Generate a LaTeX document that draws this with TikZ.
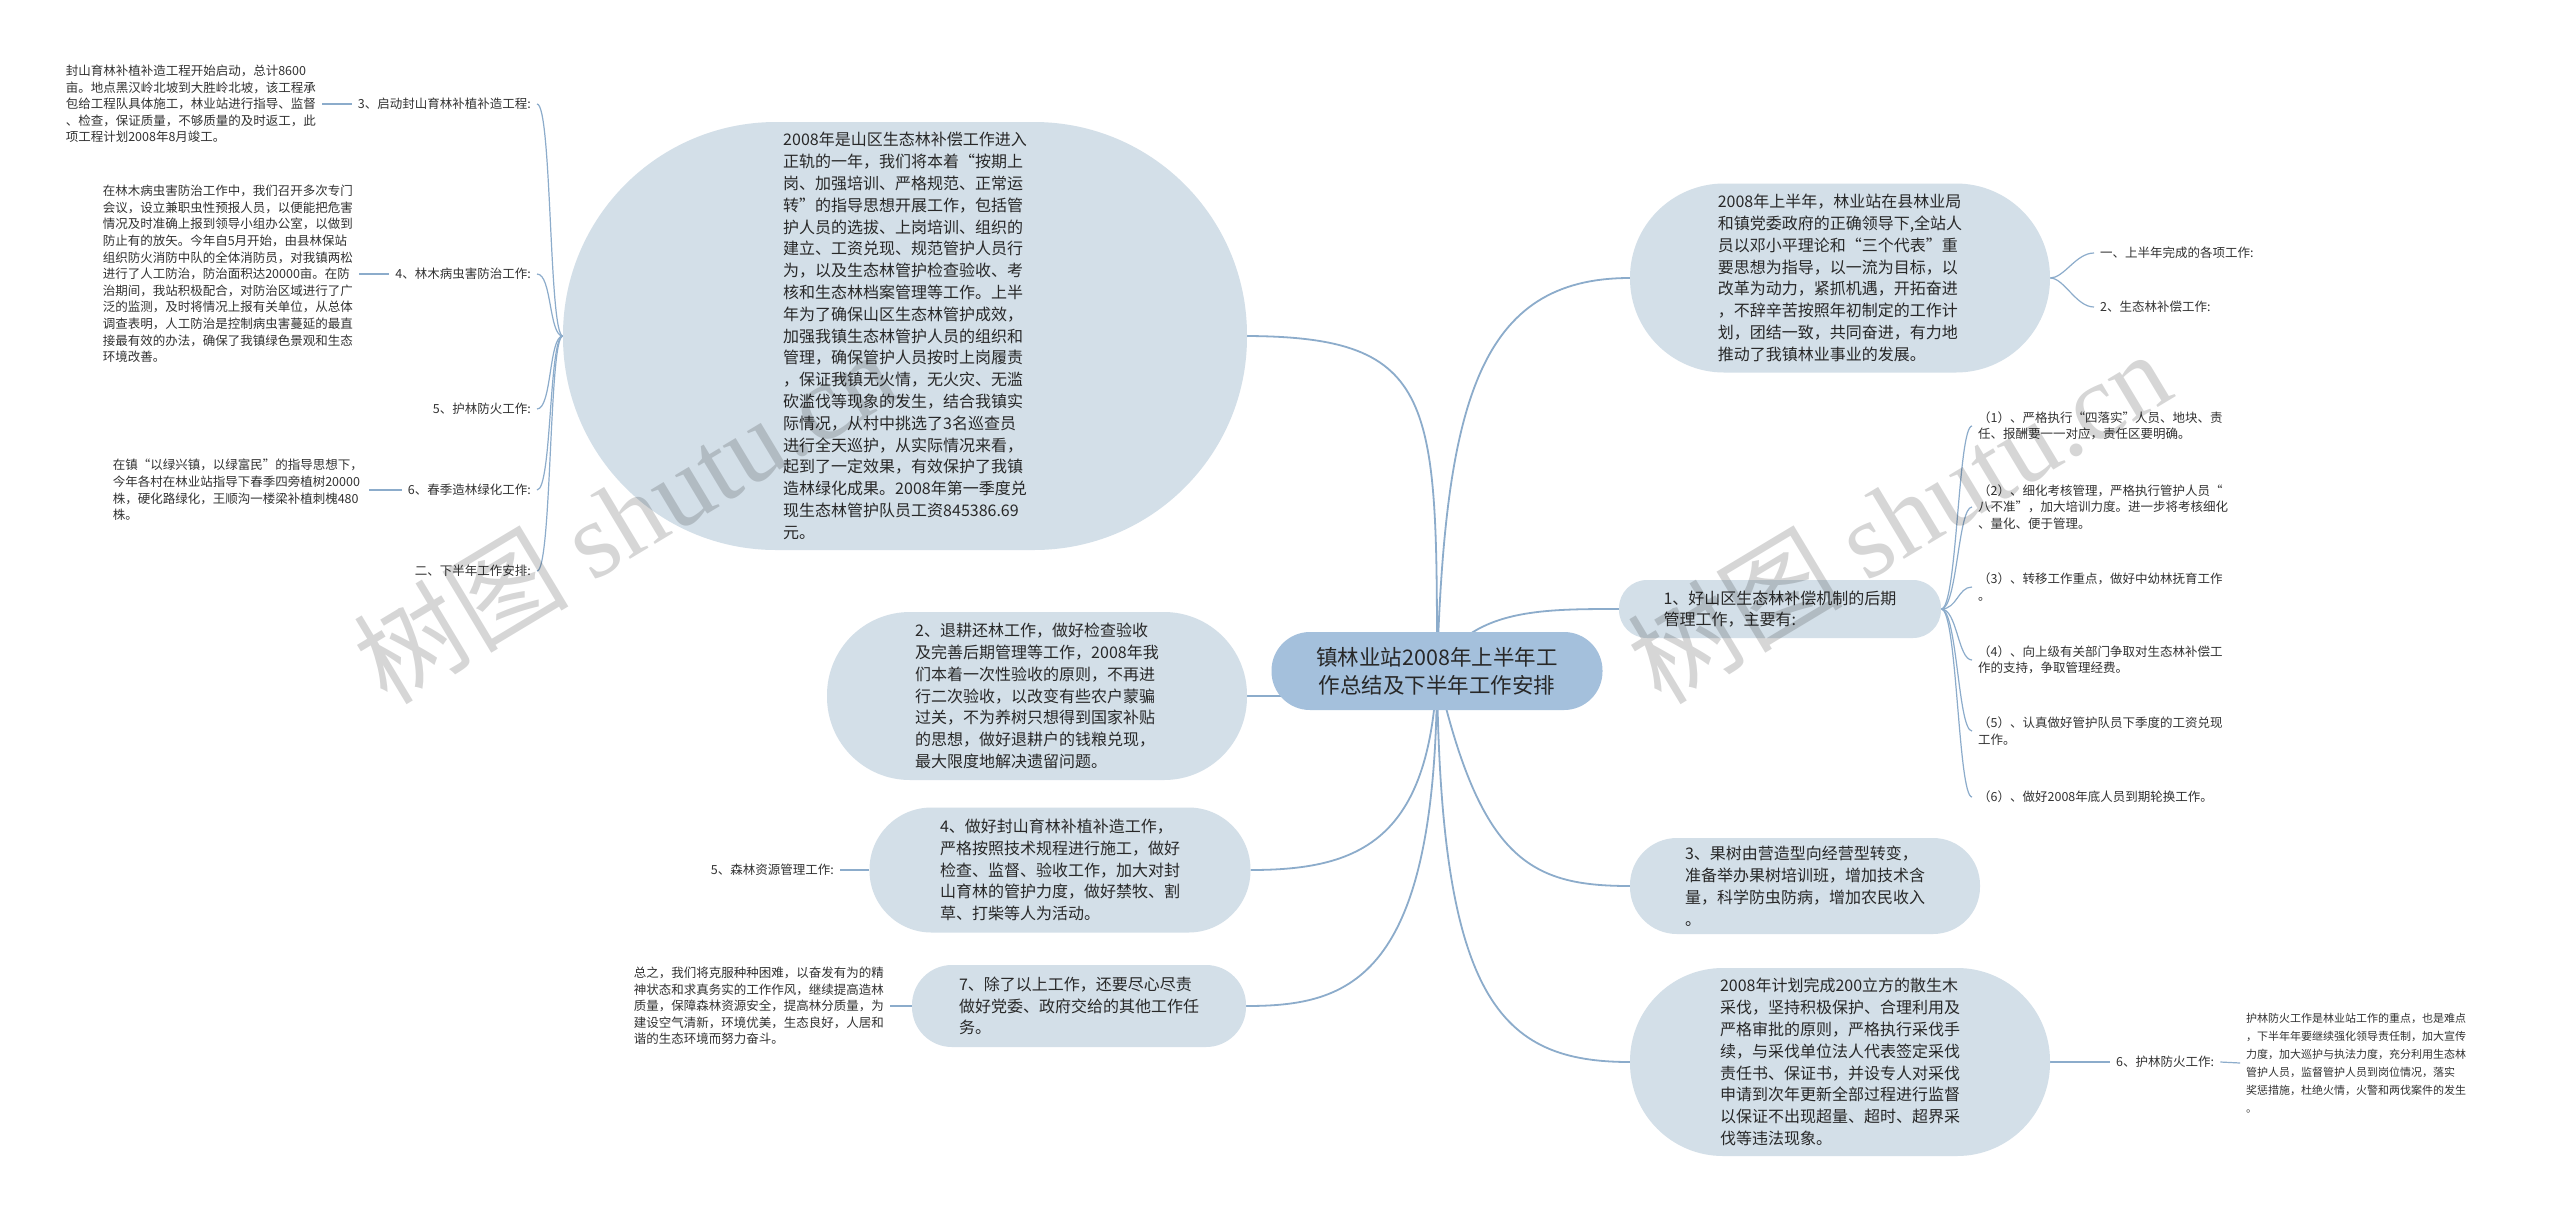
\documentclass[tikz,border=0pt]{standalone}
\usepackage{fontspec}
\setmainfont{Noto Sans CJK SC}
\newfontfamily\wmlatin{Liberation Serif}
\usetikzlibrary{backgrounds}
\definecolor{cfill}{RGB}{164,192,220}
\definecolor{nfill}{RGB}{211,223,232}
\definecolor{lnc}{RGB}{140,172,203}
\definecolor{txt}{RGB}{40,40,40}
\definecolor{stxt}{RGB}{50,50,50}
\begin{document}
\begin{tikzpicture}[x=1pt,y=-1pt,
 conn/.style={draw=lnc,line width=1.8pt},
 subconn/.style={draw=lnc,line width=1.2pt},
 bubble/.style={fill=nfill,text=txt,font=\fontsize{16}{21.8}\selectfont,align=left,inner sep=0pt},
 root/.style={fill=cfill,text=txt,font=\fontsize{21.5}{28}\selectfont,align=center,inner sep=0pt},
 small/.style={text=stxt,font=\fontsize{12.5}{16.6}\selectfont,align=left,inner xsep=6pt,inner ysep=2pt},
 lbl/.style={text=stxt,font=\fontsize{12.5}{16.6}\selectfont,inner xsep=6pt,inner ysep=2pt},
 wm/.style={black,opacity=0.16,rotate=31,anchor=base west,font=\fontsize{108}{108}\selectfont}
]
\useasboundingbox (0,0) rectangle (2560,1211);

% root
\node[root,minimum width=331pt,minimum height=78pt,rounded corners=38.5pt] (C) at (1437,671) {镇林业站2008年上半年工\\作总结及下半年工作安排};

% left big node
\node[bubble,minimum width=684pt,minimum height=428pt,rounded corners=213pt] (A) at (905,336) {2008年是山区生态林补偿工作进入\\正轨的一年，我们将本着“按期上\\岗、加强培训、严格规范、正常运\\转”的指导思想开展工作，包括管\\护人员的选拔、上岗培训、组织的\\建立、工资兑现、规范管护人员行\\为，以及生态林管护检查验收、考\\核和生态林档案管理等工作。上半\\年为了确保山区生态林管护成效，\\加强我镇生态林管护人员的组织和\\管理，确保管护人员按时上岗履责\\，保证我镇无火情，无火灾、无滥\\砍滥伐等现象的发生，结合我镇实\\际情况，从村中挑选了3名巡查员\\进行全天巡护，从实际情况来看，\\起到了一定效果，有效保护了我镇\\造林绿化成果。2008年第一季度兑\\现生态林管护队员工资845386.69\\元。};

\node[bubble,minimum width=420pt,minimum height=168pt,rounded corners=83pt] (B2) at (1037,696) {2、退耕还林工作，做好检查验收\\及完善后期管理等工作，2008年我\\们本着一次性验收的原则，不再进\\行二次验收，以改变有些农户蒙骗\\过关，不为养树只想得到国家补贴\\的思想，做好退耕户的钱粮兑现，\\最大限度地解决遗留问题。};

\node[bubble,minimum width=381pt,minimum height=125pt,rounded corners=62pt] (B3) at (1060,870) {4、做好封山育林补植补造工作，\\严格按照技术规程进行施工，做好\\检查、监督、验收工作，加大对封\\山育林的管护力度，做好禁牧、割\\草、打柴等人为活动。};

\node[bubble,minimum width=334pt,minimum height=82pt,rounded corners=40pt] (B4) at (1079,1006) {7、除了以上工作，还要尽心尽责\\做好党委、政府交给的其他工作任\\务。};

% right nodes
\node[bubble,minimum width=420pt,minimum height=189pt,rounded corners=94pt] (R1) at (1840,278) {2008年上半年，林业站在县林业局\\和镇党委政府的正确领导下,全站人\\员以邓小平理论和“三个代表”重\\要思想为指导，以一流为目标，以\\改革为动力，紧抓机遇，开拓奋进\\，不辞辛苦按照年初制定的工作计\\划，团结一致，共同奋进，有力地\\推动了我镇林业事业的发展。};

\node[bubble,minimum width=322pt,minimum height=58pt,rounded corners=28pt] (B1) at (1780,609) {1、好山区生态林补偿机制的后期\\管理工作，主要有:};

\node[bubble,minimum width=350pt,minimum height=96pt,rounded corners=47pt] (B5) at (1805,886) {3、果树由营造型向经营型转变，\\准备举办果树培训班，增加技术含\\量，科学防虫防病，增加农民收入\\。};

\node[bubble,minimum width=420pt,minimum height=188pt,rounded corners=93pt] (B6) at (1840,1062) {2008年计划完成200立方的散生木\\采伐，坚持积极保护、合理利用及\\严格审批的原则，严格执行采伐手\\续，与采伐单位法人代表签定采伐\\责任书、保证书，并设专人对采伐\\申请到次年更新全部过程进行监督\\以保证不出现超量、超时、超界采\\伐等违法现象。};

% left labels and texts
\node[small,anchor=east] (T3) at (322,104) {封山育林补植补造工程开始启动，总计8600\\亩。地点黑汉岭北坡到大胜岭北坡，该工程承\\包给工程队具体施工，林业站进行指导、监督\\、检查，保证质量，不够质量的及时返工，此\\项工程计划2008年8月竣工。};
\node[lbl,anchor=east] (L3) at (537,104) {3、启动封山育林补植补造工程:};
\node[small,anchor=east] (T4) at (359,274) {在林木病虫害防治工作中，我们召开多次专门\\会议，设立兼职虫性预报人员，以便能把危害\\情况及时准确上报到领导小组办公室，以做到\\防止有的放矢。今年自5月开始，由县林保站\\组织防火消防中队的全体消防员，对我镇两松\\进行了人工防治，防治面积达20000亩。在防\\治期间，我站积极配合，对防治区域进行了广\\泛的监测，及时将情况上报有关单位，从总体\\调查表明，人工防治是控制病虫害蔓延的最直\\接最有效的办法，确保了我镇绿色景观和生态\\环境改善。};
\node[lbl,anchor=east] (L4) at (537,274) {4、林木病虫害防治工作:};
\node[lbl,anchor=east] (L5) at (537,409) {5、护林防火工作:};
\node[small,anchor=east] (T6) at (369,490) {在镇“以绿兴镇，以绿富民”的指导思想下，\\今年各村在林业站指导下春季四旁植树20000\\株，硬化路绿化，王顺沟一楼梁补植刺槐480\\株。};
\node[lbl,anchor=east] (L6) at (537,490) {6、春季造林绿化工作:};
\node[lbl,anchor=east] (L2) at (537,571) {二、下半年工作安排:};
\node[lbl,anchor=east] (LF) at (840,870) {5、森林资源管理工作:};
\node[small,anchor=east] (T7) at (890,1006) {总之，我们将克服种种困难，以奋发有为的精\\神状态和求真务实的工作作风，继续提高造林\\质量，保障森林资源安全，提高林分质量，为\\建设空气清新，环境优美，生态良好，人居和\\谐的生态环境而努力奋斗。};

% right labels and texts
\node[lbl,anchor=west] (RL1) at (2094,253) {一、上半年完成的各项工作:};
\node[lbl,anchor=west] (RL2) at (2094,307) {2、生态林补偿工作:};
\node[small,anchor=west] (K1) at (1972,426) {（1）、严格执行“四落实”人员、地块、责\\任、报酬要一一对应，责任区要明确。};
\node[small,anchor=west] (K2) at (1972,507) {（2）、细化考核管理，严格执行管护人员“\\八不准”，加大培训力度。进一步将考核细化\\、量化、便于管理。};
\node[small,anchor=west] (K3) at (1972,587) {（3）、转移工作重点，做好中幼林抚育工作\\。};
\node[small,anchor=west] (K4) at (1972,660) {（4）、向上级有关部门争取对生态林补偿工\\作的支持，争取管理经费。};
\node[small,anchor=west] (K5) at (1972,731) {（5）、认真做好管护队员下季度的工资兑现\\工作。};
\node[small,anchor=west] (K6) at (1972,797) {（6）、做好2008年底人员到期轮换工作。};
\node[lbl,anchor=west] (RL6) at (2110,1062) {6、护林防火工作:};
\node[small,anchor=west,font=\fontsize{11}{18}\selectfont] (TR) at (2240,1063) {护林防火工作是林业站工作的重点，也是难点\\，下半年年要继续强化领导责任制，加大宣传\\力度，加大巡护与执法力度，充分利用生态林\\管护人员，监督管护人员到岗位情况，落实\\奖惩措施，杜绝火情，火警和两伐案件的发生\\。};

% connectors
\begin{scope}[on background layer]
\fill[white] (0,0) rectangle (2560,1211);
\draw[conn] (C.center) .. controls (1437,400) and (1437,337) .. (A.east);
\draw[conn] (C.center) .. controls (1445,400) and (1480,278) .. (R1.west);
\draw[conn] (C.center) .. controls (1470,609) and (1540,609) .. (B1.west);
\draw[conn] (C.center) .. controls (1480,860) and (1530,886) .. (B5.west);
\draw[conn] (C.center) .. controls (1440,1000) and (1500,1062) .. (B6.west);
\draw[conn] (C.center) .. controls (1430,840) and (1360,870) .. (B3.east);
\draw[conn] (C.center) .. controls (1437,980) and (1350,1006) .. (B4.east);
\draw[conn] (B2.east) -- (B2.east -| C.center);
\foreach \n in {L3,L4,L5,L6,L2}
  \draw[subconn] (A.west) .. controls +(-14,0) and +(15,0) .. (\n.east);
\foreach \n in {K1,K2,K3,K4,K5,K6}
  \draw[subconn] (B1.east) .. controls +(16,0) and +(-14,0) .. (\n.west);
\foreach \n in {RL1,RL2}
  \draw[subconn] (R1.east) .. controls +(14,0) and +(-18,0) .. (\n.west);
\draw[subconn] (T3.east) -- (L3.west);
\draw[subconn] (T4.east) -- (L4.west);
\draw[subconn] (T6.east) -- (L6.west);
\draw[subconn] (LF.east) -- (B3.west);
\draw[subconn] (T7.east) -- (B4.west);
\draw[subconn] (B6.east) -- (RL6.west);
\draw[subconn] (RL6.east) -- (TR.west);
\end{scope}

% watermarks
\node[wm] (wm1) at (384,708) {树图 {\wmlatin shutu.cn}};
\node[wm] (wm2) at (1658,708) {树图 {\wmlatin shutu.cn}};
\end{tikzpicture}
\end{document}
